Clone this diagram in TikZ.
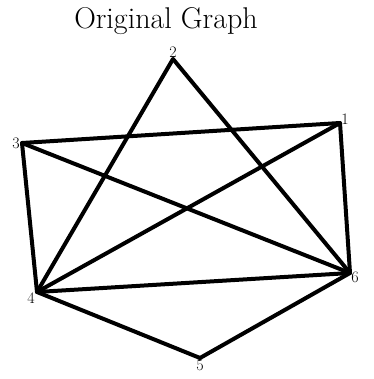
\documentclass[tikz,border=0pt]{standalone}
\usepackage{tikz}
\usetikzlibrary{positioning}

\newcommand{\vnum}[1]{{\fontsize{16}{18}\selectfont #1}}

\begin{document}
\begin{tikzpicture}[
    x=1pt, y=-1pt,
    vertex/.style={inner sep=0pt, minimum size=0pt},
    every edge/.style={draw, line width=4pt, line cap=round, line join=round}
]
    \useasboundingbox (0,0) rectangle (373,379);
    \node[font=\fontsize{30}{34}\selectfont] (title) at (166,21) {Original Graph};

    \node[vertex] (v2) at (173,59)  {};
    \node[vertex] (v1) at (340,123) {};
    \node[vertex] (v3) at (22,143)  {};
    \node[vertex] (v4) at (37,292)  {};
    \node[vertex] (v6) at (350,273) {};
    \node[vertex] (v5) at (200,358) {};

    % vertex numbers
    \node[inner sep=1pt, above=0pt of v2]                 (n2) {\vnum{2}};
    \node[inner sep=1pt, above right=-3pt and 0pt of v1]  (n1) {\vnum{1}};
    \node[inner sep=1pt, left=1pt of v3]                  (n3) {\vnum{3}};
    \node[inner sep=1pt, below left=-1pt and 1pt of v4]   (n4) {\vnum{4}};
    \node[inner sep=1pt, below right=-2pt and 0pt of v6]  (n6) {\vnum{6}};
    \node[inner sep=1pt, below=1pt of v5]                 (n5) {\vnum{5}};

    \path
        (v2) edge (v4)
        (v2) edge (v6)
        (v3) edge (v1)
        (v3) edge (v6)
        (v3) edge (v4)
        (v1) edge (v4)
        (v1) edge (v6)
        (v4) edge (v6)
        (v4) edge (v5)
        (v5) edge (v6);
\end{tikzpicture}
\end{document}
